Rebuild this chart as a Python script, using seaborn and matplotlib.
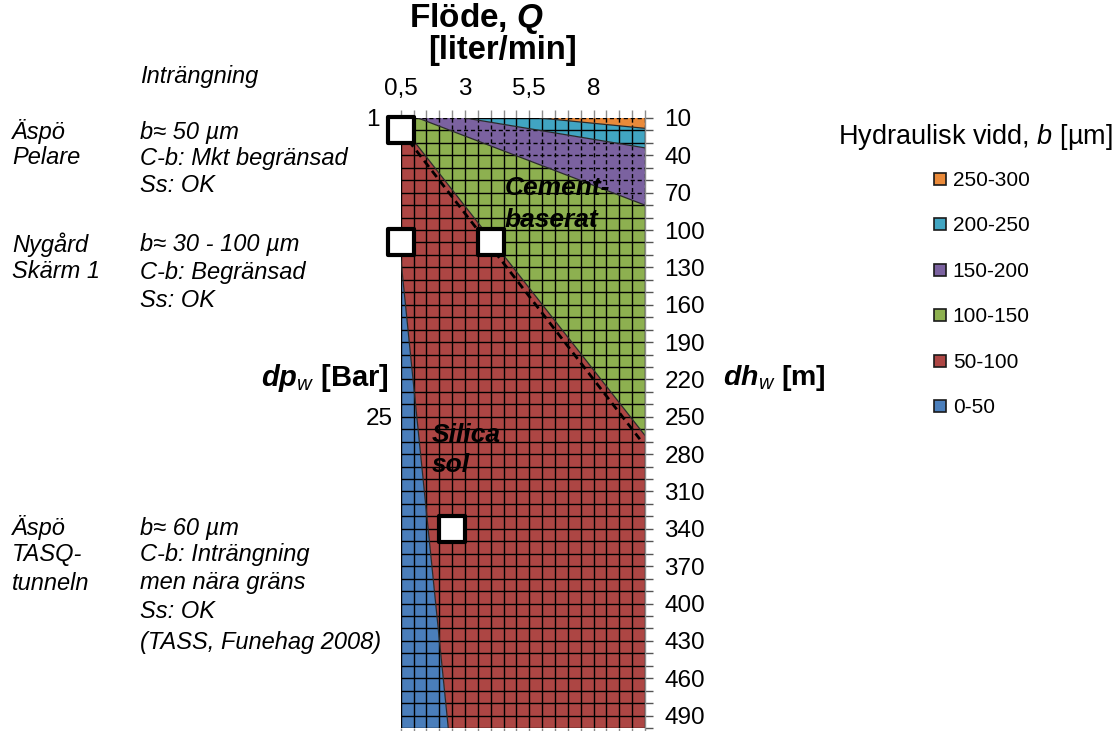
import numpy as np
import pandas as pd
import matplotlib
matplotlib.use("Agg")
import matplotlib.pyplot as plt
from matplotlib.lines import Line2D
import seaborn as sns

sns.set_theme(style="white")
plt.rcParams["font.family"] = ["Liberation Sans", "DejaVu Sans"]
plt.rcParams["mathtext.fontset"] = "custom"
plt.rcParams["mathtext.rm"] = "Liberation Sans"
plt.rcParams["mathtext.it"] = "Liberation Sans:italic"
plt.rcParams["mathtext.bf"] = "Liberation Sans:bold"
plt.rcParams["mathtext.bfit"] = "Liberation Sans:bold:italic"
for key in ["text.color", "axes.labelcolor", "xtick.color", "ytick.color"]:
    plt.rcParams[key] = "black"

# ---- axis ranges: flow Q [l/min] and head difference dh_w [m]
Q_MIN, Q_MAX = 0.5, 10.0
DH_MIN, DH_MAX = 10, 500
q_categories = np.arange(0.5, 10.01, 0.5)
dh_categories = np.arange(10, 501, 10)
q_ticklabels = {0.5: "0,5", 3.0: "3", 5.5: "5,5", 8.0: "8"}
dh_labelled = list(range(10, 491, 30))

# ---- iso-aperture boundaries (Q, dh) between bands of hydraulic aperture b
b50_q, b50_dh = [0.5, 2.35], [122, 500]
b100_q, b100_dh = [0.5, 10.0], [15, 265]
b150_q, b150_dh = [1.17, 10.0], [10, 80]
b200_q, b200_dh = [3.0, 10.0], [10, 34]
b250_q, b250_dh = [5.9, 10.0], [10, 18.3]

band_labels = ["0-50", "50-100", "100-150", "150-200", "200-250", "250-300"]
band_colors = ["#4a7ebb", "#ad4644", "#8db050", "#7b62a0", "#41a5c2", "#ea8a3a"]
band_dashed_grid = [False, False, False, True, False, True]

# ---- grouting limit line (cement-based vs silica sol)
limit_q, limit_dh = [0.5, 9.8], [20, 268]

# ---- observed sites
site_q = [0.5, 0.5, 4.0, 2.5]
site_dh = [20, 110, 110, 340]


def pts(q, dh):
    return list(zip(q, dh))


def rev(q, dh):
    return list(zip(q, dh))[::-1]


band_polys = [
    pts(b50_q, b50_dh) + [(Q_MIN, DH_MAX)],
    pts(b100_q, b100_dh) + [(Q_MAX, DH_MAX)] + rev(b50_q, b50_dh),
    pts(b150_q, b150_dh) + rev(b100_q, b100_dh) + [(Q_MIN, DH_MIN)],
    pts(b200_q, b200_dh) + rev(b150_q, b150_dh),
    pts(b250_q, b250_dh) + rev(b200_q, b200_dh),
    pts(b250_q, b250_dh) + [(Q_MAX, DH_MIN)],
]

W, H = 1120, 731
fig = plt.figure(figsize=(W / 100, H / 100), dpi=100)
ax_l, ax_r, ax_t, ax_b = 400.7, 645, 118, 728
ax = fig.add_axes([ax_l / W, 1 - ax_b / H, (ax_r - ax_l) / W, (ax_b - ax_t) / H])
ax.set_xlim(Q_MIN, Q_MAX)
ax.set_ylim(DH_MAX, DH_MIN)

for poly, color, dashed in zip(band_polys, band_colors, band_dashed_grid):
    xs, ys = zip(*poly)
    patch = ax.fill(xs, ys, color=color, lw=0, zorder=1)[0]
    ls = (0, (3, 2)) if dashed else "solid"
    vl = ax.vlines(q_categories, DH_MIN, DH_MAX, colors="black", lw=1.0,
                   linestyles=ls, zorder=2)
    hl = ax.hlines(dh_categories, Q_MIN, Q_MAX, colors="black", lw=1.0,
                   linestyles=ls, zorder=2)
    vl.set_clip_path(patch)
    hl.set_clip_path(patch)

for bq, bdh in [(b50_q, b50_dh), (b100_q, b100_dh), (b150_q, b150_dh),
                (b200_q, b200_dh), (b250_q, b250_dh)]:
    ax.plot(bq, bdh, color="#2a2a2a", lw=0.9, zorder=2.5)

ax.plot(limit_q, limit_dh, color="black", lw=2.0, ls=(0, (2.8, 1.8)), zorder=3)

sites = pd.DataFrame({"Q": site_q, "dh": site_dh})
sns.scatterplot(data=sites, x="Q", y="dh", ax=ax, marker="s", s=340,
                color="white", edgecolor="black", linewidth=3.0, zorder=5,
                legend=False)
for coll in ax.collections[-1:]:
    coll.set_clip_on(False)

# ---- axes decoration
ax.xaxis.tick_top()
ax.set_xticks(q_categories)
ax.set_xticklabels([q_ticklabels.get(float(q), "") for q in q_categories])
ax.tick_params(axis="x", top=True, bottom=True, labeltop=True, labelbottom=False,
               direction="out", length=6, width=1, color="#8c8c8c",
               labelsize=17.5, pad=7)
ax.yaxis.tick_right()
ax.set_yticks(dh_categories)
ax.set_yticklabels([str(v) if v in dh_labelled else "" for v in dh_categories])
ax.tick_params(axis="y", right=True, left=False, labelright=True, labelleft=False,
               direction="out", length=6, width=1, color="#555555",
               labelsize=17.5, pad=8)
ax.set_xlabel("")
ax.set_ylabel("")
for side in ["left", "top", "bottom"]:
    ax.spines[side].set_visible(False)
ax.spines["right"].set_color("#8c8c8c")
ax.spines["right"].set_linewidth(1)
ax.grid(False)

sec = ax.secondary_yaxis("left", functions=(lambda h: h / 10, lambda p: p * 10))
sec.set_yticks([1, 25])
sec.set_yticklabels(["1", "25"])
sec.tick_params(length=0, labelsize=17.5, pad=25)
for lab in sec.get_yticklabels():
    lab.set_horizontalalignment("left")
sec.spines["left"].set_visible(False)


def ftext(x, y, s, **kw):
    fig.text(x / W, 1 - y / H, s, va="center", **kw)


# ---- titles and axis labels
ftext(476, 19, r"Flöde, $\mathbfit{Q}$", ha="center", fontsize=24, fontweight="bold")
ftext(502, 50, "[liter/min]", ha="center", fontsize=23.5, fontweight="bold")
ftext(389, 378, r"$\mathbfit{dp}_{\mathit{w}}$ [Bar]", ha="right", fontsize=21,
      fontweight="bold")
ftext(723, 378, r"$\mathbfit{dh}_{\mathit{w}}$ [m]", ha="left", fontsize=20.5,
      fontweight="bold")

# ---- region names inside the chart
for y, s in [(188, "Cement-"), (220, "baserat")]:
    ftext(505, y, s, ha="left", fontsize=19, fontweight="bold", style="italic")
for y, s in [(435, "Silica"), (465, "sol")]:
    ftext(432, y, s, ha="left", fontsize=19, fontweight="bold", style="italic")

# ---- site notes on the left
notes_left = [(132, "Äspö"), (158, "Pelare"),
              (245, "Nygård"), (272, "Skärm 1"),
              (528, "Äspö"), (555, "TASQ-"), (583, "tunneln")]
notes_right = [(77, "Inträngning"),
               (132, "b≈ 50 µm"), (158, "C-b: Mkt begränsad"), (186, "Ss: OK"),
               (245, "b≈ 30 - 100 µm"), (272, "C-b: Begränsad"), (300, "Ss: OK"),
               (528, "b≈ 60 µm"), (555, "C-b: Inträngning"),
               (583, "men nära gräns"), (611, "Ss: OK"),
               (643, "(TASS, Funehag 2008)")]
for y, s in notes_left:
    ftext(12, y, s, ha="left", fontsize=17, style="italic")
for y, s in notes_right:
    ftext(140, y, s, ha="left", fontsize=17, style="italic")

# ---- legend
ftext(838, 137, r"Hydraulisk vidd, $\mathit{b}$ [µm]", ha="left", fontsize=19.5)
handles = [Line2D([], [], ls="none", marker="s", markersize=8,
                  markerfacecolor=c, markeredgecolor="#1a1a1a", markeredgewidth=1.2)
           for c in band_colors[::-1]]
fig.legend(handles, band_labels[::-1], loc="upper left",
           bbox_to_anchor=(933 / W, 1 - 171 / H), frameon=False, fontsize=15,
           labelspacing=1.27, handlelength=0.7, handletextpad=0.25,
           borderpad=0, borderaxespad=0)

fig.savefig("out.png", dpi=100)
